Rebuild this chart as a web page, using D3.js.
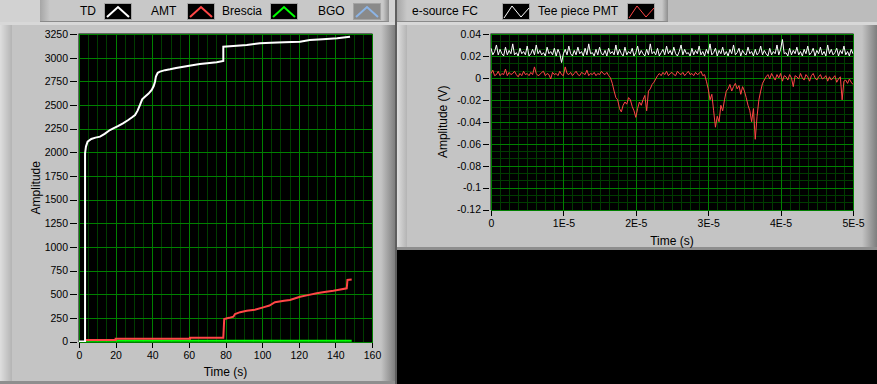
<!DOCTYPE html>
<html><head><meta charset="utf-8">
<script src="https://cdn.jsdelivr.net/npm/d3@7"></script>
<style>
body{margin:0;background:#000;}
svg{display:block;font-family:"Liberation Sans",Arial,sans-serif;}
</style></head>
<body><svg id="c" width="877" height="384"></svg>
<script>
// ---------------- DATA ----------------
// Left chart (Amplitude vs Time (s))
const leftSeriesNames = ["TD", "AMT", "Brescia", "BGO"];
const leftSeriesColors = ["#ffffff", "#ff4646", "#00ff00", "#8cb4e6"];
const tdTime  = [0,3.3,3.3,3.8,4.7,6.7,9,11.5,14,16.9,19,21.5,24,26.9,29,30.6,32,33.3,34.5,36,38,39.7,40.8,41.5,42,42.4,43,44.2,47,49.7,53,57,61,66,70,75.2,78.8,78.8,84.3,91.6,98.8,105,112,120.7,126,133,141,148];
const tdValue = [0,0,1989,2060,2112,2140,2155,2165,2195,2235,2255,2278,2305,2341,2370,2394,2440,2500,2560,2587,2620,2658,2700,2746,2800,2817,2840,2852,2868,2877,2890,2904,2918,2933,2942,2951,2965,3116,3123,3134,3152,3158,3163,3169,3187,3195,3205,3222];
const amtTime  = [3.3,20,20,60.6,60.6,78.8,79.3,82,84.3,85.2,88,91.6,96,100.6,104,107,112,115.2,120.7,125,129.8,134,138.9,142,146.2,146.6,148.9];
const amtValue = [16,16,28,28,40,40,238,250,262,291,310,325,335,361,380,415,430,438,473,490,509,522,537,548,562,650,655];
const bresciaTime  = [3.3, 148.9];
const bresciaValue = [7, 7];
const leftXTicks = [0,20,40,60,80,100,120,140,160];
const leftYTicks = [0,250,500,750,1000,1250,1500,1750,2000,2250,2500,2750,3000,3250];

// Right chart (Amplitude (V) vs Time (s)), sampled every 0.25 us
const rightSeriesNames = ["e-source FC", "Tee piece PMT"];
const rightSeriesColors = ["#ffffff", "#ff4646"];
const sampleStep = 2.5e-7;
const fcValues = [
0.027,0.021,0.024,0.030,0.021,0.026,0.022,0.020,0.028,0.021,
0.025,0.022,0.031,0.021,0.023,0.020,0.027,0.022,0.024,0.021,
0.029,0.020,0.022,0.026,0.021,0.030,0.022,0.025,0.021,0.023,
0.020,0.028,0.022,0.024,0.021,0.027,0.020,0.026,0.022,0.014,
0.022,0.026,0.021,0.029,0.022,0.020,0.025,0.021,0.028,0.022,
0.024,0.020,0.027,0.021,0.031,0.022,0.023,0.020,0.026,0.021,
0.028,0.022,0.021,0.025,0.020,0.027,0.022,0.024,0.021,0.030,
0.021,0.026,0.022,0.020,0.028,0.021,0.024,0.022,0.027,0.020,
0.023,0.029,0.021,0.025,0.022,0.020,0.026,0.021,0.031,0.022,
0.024,0.021,0.027,0.020,0.023,0.026,0.021,0.029,0.022,0.025,
0.021,0.028,0.022,0.020,0.024,0.030,0.021,0.026,0.022,0.023,
0.020,0.027,0.021,0.025,0.022,0.029,0.021,0.024,0.020,0.026,
0.022,0.031,0.021,0.023,0.027,0.020,0.025,0.022,0.028,0.021,
0.024,0.020,0.026,0.022,0.030,0.021,0.023,0.027,0.020,0.025,
0.022,0.021,0.028,0.022,0.024,0.020,0.026,0.021,0.023,0.029,
0.021,0.025,0.022,0.020,0.027,0.021,0.024,0.022,0.030,0.021,
0.026,0.035,0.022,0.023,0.020,0.027,0.021,0.025,0.022,0.028,
0.021,0.024,0.020,0.026,0.022,0.029,0.021,0.023,0.027,0.020,
0.025,0.022,0.028,0.021,0.024,0.020,0.030,0.022,0.026,0.021,
0.023,0.027,0.020,0.025,0.022,0.029,0.021,0.024,0.020,0.026,
0.022];
const pmtValues = [
0.004,0.007,0.002,0.003,0.006,0.002,0.004,0.003,0.008,0.002,
0.005,0.003,0.004,0.006,0.003,0.001,0.004,0.002,0.006,0.003,
0.004,0.002,0.005,0.003,0.010,0.004,0.002,0.003,0.005,0.006,
0.002,0.004,0.003,-0.001,0.005,0.003,0.004,0.002,0.006,0.003,
0.002,0.010,0.004,0.003,0.005,0.002,0.004,0.006,0.003,0.002,
0.005,0.004,0.003,0.007,0.002,0.004,0.003,0.005,0.002,0.004,
0.003,0.006,0.004,0.003,0.005,0.002,0.000,
-0.005,-0.012,-0.018,
-0.020,-0.028,-0.031,-0.025,-0.022,-0.024,-0.018,-0.020,-0.026,-0.030,
-0.036,-0.028,-0.022,-0.025,-0.020,-0.016,-0.030,
-0.012,-0.010,-0.006,-0.004,-0.001,0.002,
0.004,0.002,0.005,0.003,0.006,0.002,0.004,0.005,0.003,0.002,
0.006,0.004,0.003,0.005,0.002,0.004,0.006,0.003,0.004,0.002,
0.005,0.003,0.004,0.006,0.002,0.003,
-0.003,-0.010,-0.020,-0.015,
-0.030,-0.045,-0.035,-0.040,-0.025,-0.030,-0.020,-0.012,
-0.010,-0.006,-0.012,-0.008,-0.005,-0.010,-0.007,-0.015,-0.008,-0.012,-0.018,
-0.025,-0.030,-0.040,-0.028,-0.056,-0.035,-0.020,
-0.012,-0.005,-0.002,0.001,
0.003,-0.001,0.004,0.001,-0.002,0.003,0.000,0.004,-0.003,0.002,
0.001,-0.002,0.003,0.000,-0.008,0.002,0.001,-0.001,0.004,0.000,
-0.002,0.003,0.001,-0.003,0.002,0.004,0.000,-0.002,0.001,0.003,
-0.001,0.000,0.002,-0.003,0.001,-0.002,0.000,0.002,-0.004,-0.001,
0.001,-0.020,-0.003,-0.002,-0.005,-0.001,-0.004,-0.006];
const rightXTicks = [0,1e-5,2e-5,3e-5,4e-5,5e-5];
const rightXTickLabels = ["0","1E-5","2E-5","3E-5","4E-5","5E-5"];
const rightYTicks = [0.04,0.02,0,-0.02,-0.04,-0.06,-0.08,-0.1,-0.12];
const rightYTickLabels = ["0.04","0.02","0","-0.02","-0.04","-0.06","-0.08","-0.1","-0.12"];

// ---------------- DRAW ----------------
const svg = d3.select("#c");
const defs = svg.append("defs");
function hgrad(id, c1, c2){
  const g = defs.append("linearGradient").attr("id", id).attr("x1",0).attr("x2",1).attr("y1",0).attr("y2",0);
  g.append("stop").attr("offset",0).attr("stop-color",c1);
  g.append("stop").attr("offset",1).attr("stop-color",c2);
}
hgrad("bevL", "#dedede", "#b4b4b4");
hgrad("bevR", "#c4c4c4", "#7e7e7e");
hgrad("legL", "#a6a6a6", "#c8c8c8");
hgrad("legR", "#c8c8c8", "#8e8e8e");

function rect(x,y,w,h,fill){ return svg.append("rect").attr("x",x).attr("y",y).attr("width",w).attr("height",h).attr("fill",fill); }

// panels
rect(0,0,877,384,"#c4c4c4");
rect(0,0,877,22,"#d2d2d2");
rect(668,0,209,22,"#bcbcbc");
// left panel
rect(0,22,395,362,"#c4c4c4");
rect(0,22,12,362,"url(#bevL)");
rect(381,22,14,362,"url(#bevR)");
rect(0,22,395,3,"#d8d8d8");
rect(0,381,395,3,"#8e8e8e");
// right panel
rect(397,22,480,228,"#c4c4c4");
rect(397,22,10,228,"url(#bevL)");
rect(862,22,15,228,"url(#bevR)");
rect(397,22,480,3,"#d8d8d8");
rect(397,247,480,3,"#8e8e8e");
rect(395,0,2,384,"#5e5e5e");
rect(397,250,480,134,"#000");

// legend boxes
function legendBox(x0, x1){
  rect(x0,0,x1-x0,21,"#c8c8c8");
  rect(x0,0,10,21,"url(#legL)");
  rect(x1-6,0,6,21,"url(#legR)");
  rect(x0,21,x1-x0,1,"#8a8a8a");
}
legendBox(40, 389);
legendBox(397, 668);

function swatch(x, col, bg, pts, w){
  svg.append("rect").attr("x",x+0.5).attr("y",3.5).attr("width",27).attr("height",16)
    .attr("fill",bg).attr("stroke","#a4a4a4").attr("stroke-width",1);
  svg.append("polyline").attr("points", pts.map(p=>[x+p[0], 3+p[1]].join(",")).join(" "))
    .attr("fill","none").attr("stroke",col).attr("stroke-width",w);
}
const leftTextX = [80,151,222,318];
const leftSwX = [104,187,270,353];
leftSeriesNames.forEach((n,i)=>{
  svg.append("text").attr("x",leftTextX[i]).attr("y",15).attr("font-size",12).attr("fill","#000").text(n);
  swatch(leftSwX[i], leftSeriesColors[i], i===3 ? "#8a8a8a" : "#000", [[3,14],[14,4],[25,14]], 2);
});
const rightTextX = [412,538];
const rightSwX = [502,627];
rightSeriesNames.forEach((n,i)=>{
  svg.append("text").attr("x",rightTextX[i]).attr("y",15).attr("font-size",12).attr("fill","#000").text(n);
  swatch(rightSwX[i], rightSeriesColors[i], "#000", [[2,15],[10,3],[19,14],[27,5]], 1);
});

function chart(o){
  const x = d3.scaleLinear().domain(o.xDomain).range([o.left,o.right]);
  const y = d3.scaleLinear().domain(o.yDomain).range([o.bottom,o.top]);
  const g = svg.append("g");
  g.append("rect").attr("x",o.left-0.5).attr("y",o.top-0.5).attr("width",o.right-o.left+1).attr("height",o.bottom-o.top+1).attr("fill","#000");
  const grid = g.append("g").attr("shape-rendering","crispEdges");
  function vline(v,c){ const px=Math.round(x(v))+0.5; grid.append("line").attr("x1",px).attr("x2",px).attr("y1",o.top-0.5).attr("y2",o.bottom+0.5).attr("stroke",c); }
  function hline(v,c){ const py=Math.round(y(v))+0.5; grid.append("line").attr("y1",py).attr("y2",py).attr("x1",o.left-0.5).attr("x2",o.right+0.5).attr("stroke",c); }
  o.xMinor.forEach(v=>vline(v,"#003c00"));
  o.yMinor.forEach(v=>hline(v,"#003c00"));
  o.xTicks.forEach(v=>vline(v,"#008000"));
  o.yTicks.forEach(v=>hline(v,"#008000"));
  const clipId = "clip"+o.id;
  defs.append("clipPath").attr("id",clipId).append("rect")
    .attr("x",o.left-0.5).attr("y",o.top-0.5).attr("width",o.right-o.left+1).attr("height",o.bottom-o.top+1);
  const lines = g.append("g").attr("clip-path",`url(#${clipId})`);
  const line = d3.line().x(d=>x(d[0])).y(d=>y(d[1]));
  o.series.forEach(s=>{
    lines.append("path").attr("d",line(s.data)).attr("fill","none").attr("stroke",s.color)
      .attr("stroke-width",o.lw).attr("stroke-linejoin","miter");
  });
  const ya = d3.axisLeft(y).tickValues(o.yTicks).tickSize(o.yTickSize).tickPadding(2).tickFormat((d,i)=>o.yLabels[i]);
  const ag = g.append("g").attr("transform",`translate(${o.left-2},0)`).call(ya);
  const xa = d3.axisBottom(x).tickValues(o.xTicks).tickSize(5).tickPadding(4).tickFormat((d,i)=>o.xLabels[i]);
  const bg = g.append("g").attr("transform",`translate(0,${o.bottom+1.5})`).call(xa);
  [ag,bg].forEach(a=>{
    a.select(".domain").remove();
    a.attr("font-family",null).attr("font-size",null).attr("shape-rendering","crispEdges");
    a.selectAll("text").attr("font-size",10.5).attr("fill","#000");
    a.selectAll("line").attr("stroke","#000");
  });
  g.append("text").attr("x",(o.left+o.right)/2).attr("y",o.xTitleY).attr("text-anchor","middle")
    .attr("font-size",12).attr("fill","#000").text("Time (s)");
  g.append("text").attr("transform",`translate(${o.yTitleX},${(o.top+o.bottom)/2}) rotate(-90)`)
    .attr("text-anchor","middle").attr("font-size",12).attr("fill","#000").text(o.yTitle);
}

chart({
  id:"L", left:79, right:372, top:34, bottom:341.5,
  xDomain:[0,160], yDomain:[0,3250],
  xTicks:leftXTicks, xLabels:leftXTicks.map(String),
  yTicks:leftYTicks, yLabels:leftYTicks.map(String),
  xMinor:d3.range(0,160,5), yMinor:[],
  yTickSize:7, lw:2, xTitleY:376, yTitleX:39.5, yTitle:"Amplitude",
  series:[
    {color:leftSeriesColors[2], data:bresciaTime.map((t,i)=>[t,bresciaValue[i]])},
    {color:leftSeriesColors[1], data:amtTime.map((t,i)=>[t,amtValue[i]])},
    {color:leftSeriesColors[0], data:tdTime.map((t,i)=>[t,tdValue[i]])}
  ]
});

chart({
  id:"R", left:491, right:853, top:34, bottom:209.5,
  xDomain:[0,5e-5], yDomain:[-0.12,0.04],
  xTicks:rightXTicks, xLabels:rightXTickLabels,
  yTicks:rightYTicks, yLabels:rightYTickLabels,
  xMinor:d3.range(0,5e-5,1.25e-6), yMinor:d3.range(-0.12,0.04,0.02/3),
  yTickSize:6, lw:1, xTitleY:245, yTitleX:446.5, yTitle:"Amplitude (V)",
  series:[
    {color:rightSeriesColors[1], data:pmtValues.map((v,i)=>[i*sampleStep,v])},
    {color:rightSeriesColors[0], data:fcValues.map((v,i)=>[i*sampleStep,v])}
  ]
});
</script>
</body></html>
